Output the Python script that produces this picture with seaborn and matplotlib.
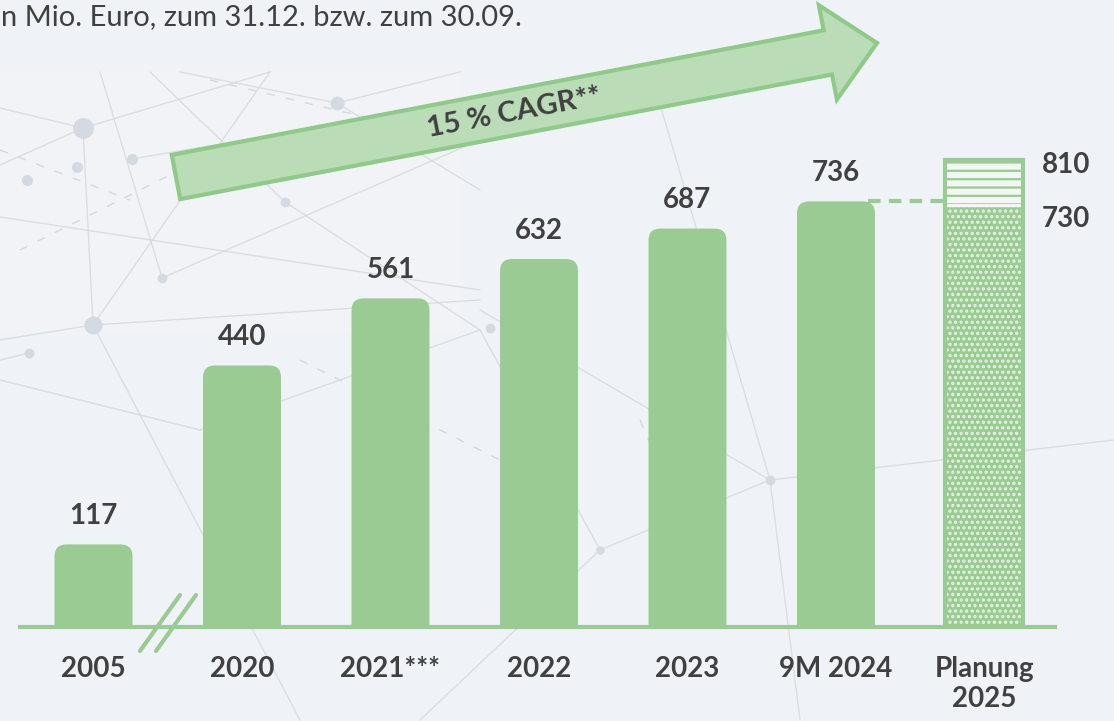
import math

import pandas as pd
import seaborn as sns
import matplotlib.pyplot as plt
from matplotlib.patches import FancyBboxPatch, FancyArrow, Rectangle

# values in Mio. Euro
categories = ['2005', '2020', '2021***', '2022', '2023', '9M 2024', 'Planung\n2025']
actual_values = [117, 440, 561, 632, 687, 736]
plan_low = 730
plan_high = 810
cagr_label = '15 % CAGR**'
subtitle = 'in Mio. Euro, zum 31.12. bzw. zum 30.09.'

W, H = 1114, 721
BG = '#eff3f7'
GREEN = '#99cb93'
GREEN_EDGE = '#8fca89'
ARROW_FILL = '#badcb6'
TEXT = '#404040'
NET = '#d4d9df'
FONT = ['Lato', 'DejaVu Sans']

sns.set_style('white')
plt.rcParams['font.family'] = FONT
plt.rcParams['hatch.linewidth'] = 1.6

fig = plt.figure(figsize=(W / 100, H / 100), dpi=100, facecolor=BG)

# background "network" decoration, pixel coordinates
bg = fig.add_axes([0, 0, 1, 1], zorder=0)
bg.set_xlim(0, W)
bg.set_ylim(H, 0)
bg.axis('off')
bg.add_patch(Rectangle((0, 72), 460, 258, fc='#f1f3f6', ec='none'))
net_lines = [
    ((0, 108), (83, 128)), ((83, 128), (93, 325)), ((83, 128), (270, 72)),
    ((0, 165), (83, 128)), ((93, 325), (270, 72)), ((0, 217), (480, 290)),
    ((93, 325), (480, 300)), ((132, 159), (480, 100)), ((150, 72), (285, 202)),
    ((285, 202), (480, 330)), ((337, 103), (460, 72)), ((180, 72), (337, 103)),
    ((337, 103), (480, 190)), ((93, 325), (0, 340)), ((162, 278), (100, 72)),
    ((162, 278), (480, 140)), ((29, 353), (0, 360)), ((93, 325), (300, 720)),
    ((480, 310), (770, 480)), ((770, 480), (1114, 440)), ((600, 550), (770, 480)),
    ((600, 550), (420, 720)), ((770, 480), (800, 720)), ((480, 330), (600, 550)),
    ((0, 380), (200, 430)), ((200, 430), (480, 330)), ((650, 70), (770, 480)),
]
dashed_lines = [
    ((0, 150), (130, 200)), ((20, 250), (200, 160)), ((210, 80), (420, 130)),
    ((300, 360), (520, 470)), ((640, 420), (700, 560)),
]
for (x0, y0), (x1, y1) in net_lines:
    bg.plot([x0, x1], [y0, y1], color=NET, lw=1, alpha=0.8, zorder=1)
for (x0, y0), (x1, y1) in dashed_lines:
    bg.plot([x0, x1], [y0, y1], color=NET, lw=1, ls=(0, (6, 8)), zorder=1)
for (x, y, s) in [(83, 128, 14), (93, 325, 12), (337, 103, 9), (132, 159, 7),
                  (77, 167, 7), (27, 180, 7), (285, 202, 6), (162, 278, 6),
                  (29, 353, 6), (770, 480, 6), (600, 550, 5), (490, 328, 6)]:
    bg.plot(x, y, 'o', ms=s, color='#d3dae2', zorder=2)

# main bar chart
ax = fig.add_axes([20 / W, (H - 627) / H, 1035 / W, 527 / H], zorder=1)
ax.patch.set_alpha(0)
df = pd.DataFrame({'label': categories[:len(actual_values)], 'value': actual_values})
bar_w = 0.525
sns.barplot(data=df, x='label', y='value', order=categories, color=GREEN,
            saturation=1, width=bar_w, errorbar=None, ax=ax)
ax.set_xlim(-0.495, 6.475)
ax.set_ylim(-32, 919)

# rounded tops: rebuild each seaborn bar as a rounded box
r_x = 12 / 148.5
aspect = (12 / 0.554) / r_x
for p in list(ax.patches):
    x0, w, h = p.get_x(), p.get_width(), p.get_height()
    p.remove()
    ax.add_patch(FancyBboxPatch((x0, -80), w, h + 80,
                                boxstyle=f'round,pad=0,rounding_size={r_x}',
                                mutation_aspect=aspect, fc=GREEN, ec='none', zorder=2))

for i, v in enumerate(actual_values):
    ax.annotate(str(v), (i, v), xytext=(0, 11), textcoords='offset points',
                ha='center', va='bottom', fontsize=20, fontweight='bold', color=TEXT)

# planning bar
xp = len(categories) - 1
ax.bar(xp, plan_low + 32, bottom=-32, width=bar_w, color=GREEN, lw=0, zorder=2)
ax.bar(xp, plan_low + 32, bottom=-32, width=bar_w, facecolor='none',
       edgecolor='#e8f2e6', hatch='...', lw=0, zorder=3)
ax.bar(xp, plan_high - plan_low, bottom=plan_low, width=bar_w, facecolor='#f2f7f1',
       edgecolor=GREEN, hatch='--', lw=0, zorder=2)
ax.hlines(plan_low, xp - bar_w / 2, xp + bar_w / 2, color='#f2f7f1', lw=2.5, zorder=4)
ax.bar(xp, plan_high + 32, bottom=-32, width=bar_w, fill=False,
       edgecolor=GREEN, lw=3, zorder=5)
ax.plot([xp - 1 + bar_w / 2 - 0.05, xp - bar_w / 2], [actual_values[-1]] * 2,
        color=GREEN, lw=3, ls=(0, (3, 2)), zorder=1)
ax.annotate(str(plan_high), (xp + bar_w / 2, plan_high), xytext=(13, -3),
            textcoords='offset points', ha='left', va='center',
            fontsize=20, fontweight='bold', color=TEXT)
ax.annotate(str(plan_low), (xp + bar_w / 2, plan_low), xytext=(13, -10),
            textcoords='offset points', ha='left', va='center',
            fontsize=20, fontweight='bold', color=TEXT)

for s in ['top', 'right', 'left']:
    ax.spines[s].set_visible(False)
ax.spines['bottom'].set_color(GREEN)
ax.spines['bottom'].set_linewidth(3)
ax.set(xlabel='', ylabel='', yticks=[])
ax.tick_params(axis='x', length=0, pad=21, labelsize=20, labelcolor=TEXT)
for t in ax.get_xticklabels():
    t.set_fontweight('bold')
    t.set_linespacing(1.2)

# overlay: arrow, axis break, subtitle
top = fig.add_axes([0, 0, 1, 1], zorder=2)
top.patch.set_alpha(0)
top.set_xlim(0, W)
top.set_ylim(H, 0)
top.axis('off')
tail = (176, 177)
tip = (877, 43)
top.add_patch(FancyArrow(tail[0], tail[1], tip[0] - tail[0], tip[1] - tail[1],
                         width=45, head_width=96, head_length=50,
                         length_includes_head=True, fc=ARROW_FILL, ec=GREEN_EDGE,
                         lw=3, joinstyle='miter'))
angle = math.degrees(math.atan2(tail[1] - tip[1], tip[0] - tail[0]))
top.text(514, 113, cagr_label, rotation=angle, rotation_mode='anchor',
         ha='center', va='center', fontsize=21, fontweight='bold', color=TEXT)
for dx in (0, 16):
    top.plot([180 + dx, 140 + dx], [595, 651], color=GREEN, lw=3,
             solid_capstyle='round')
top.text(-6, 17, subtitle, ha='left', va='center', fontsize=21, color=TEXT)

fig.savefig('out.png', dpi=100, facecolor=BG)
